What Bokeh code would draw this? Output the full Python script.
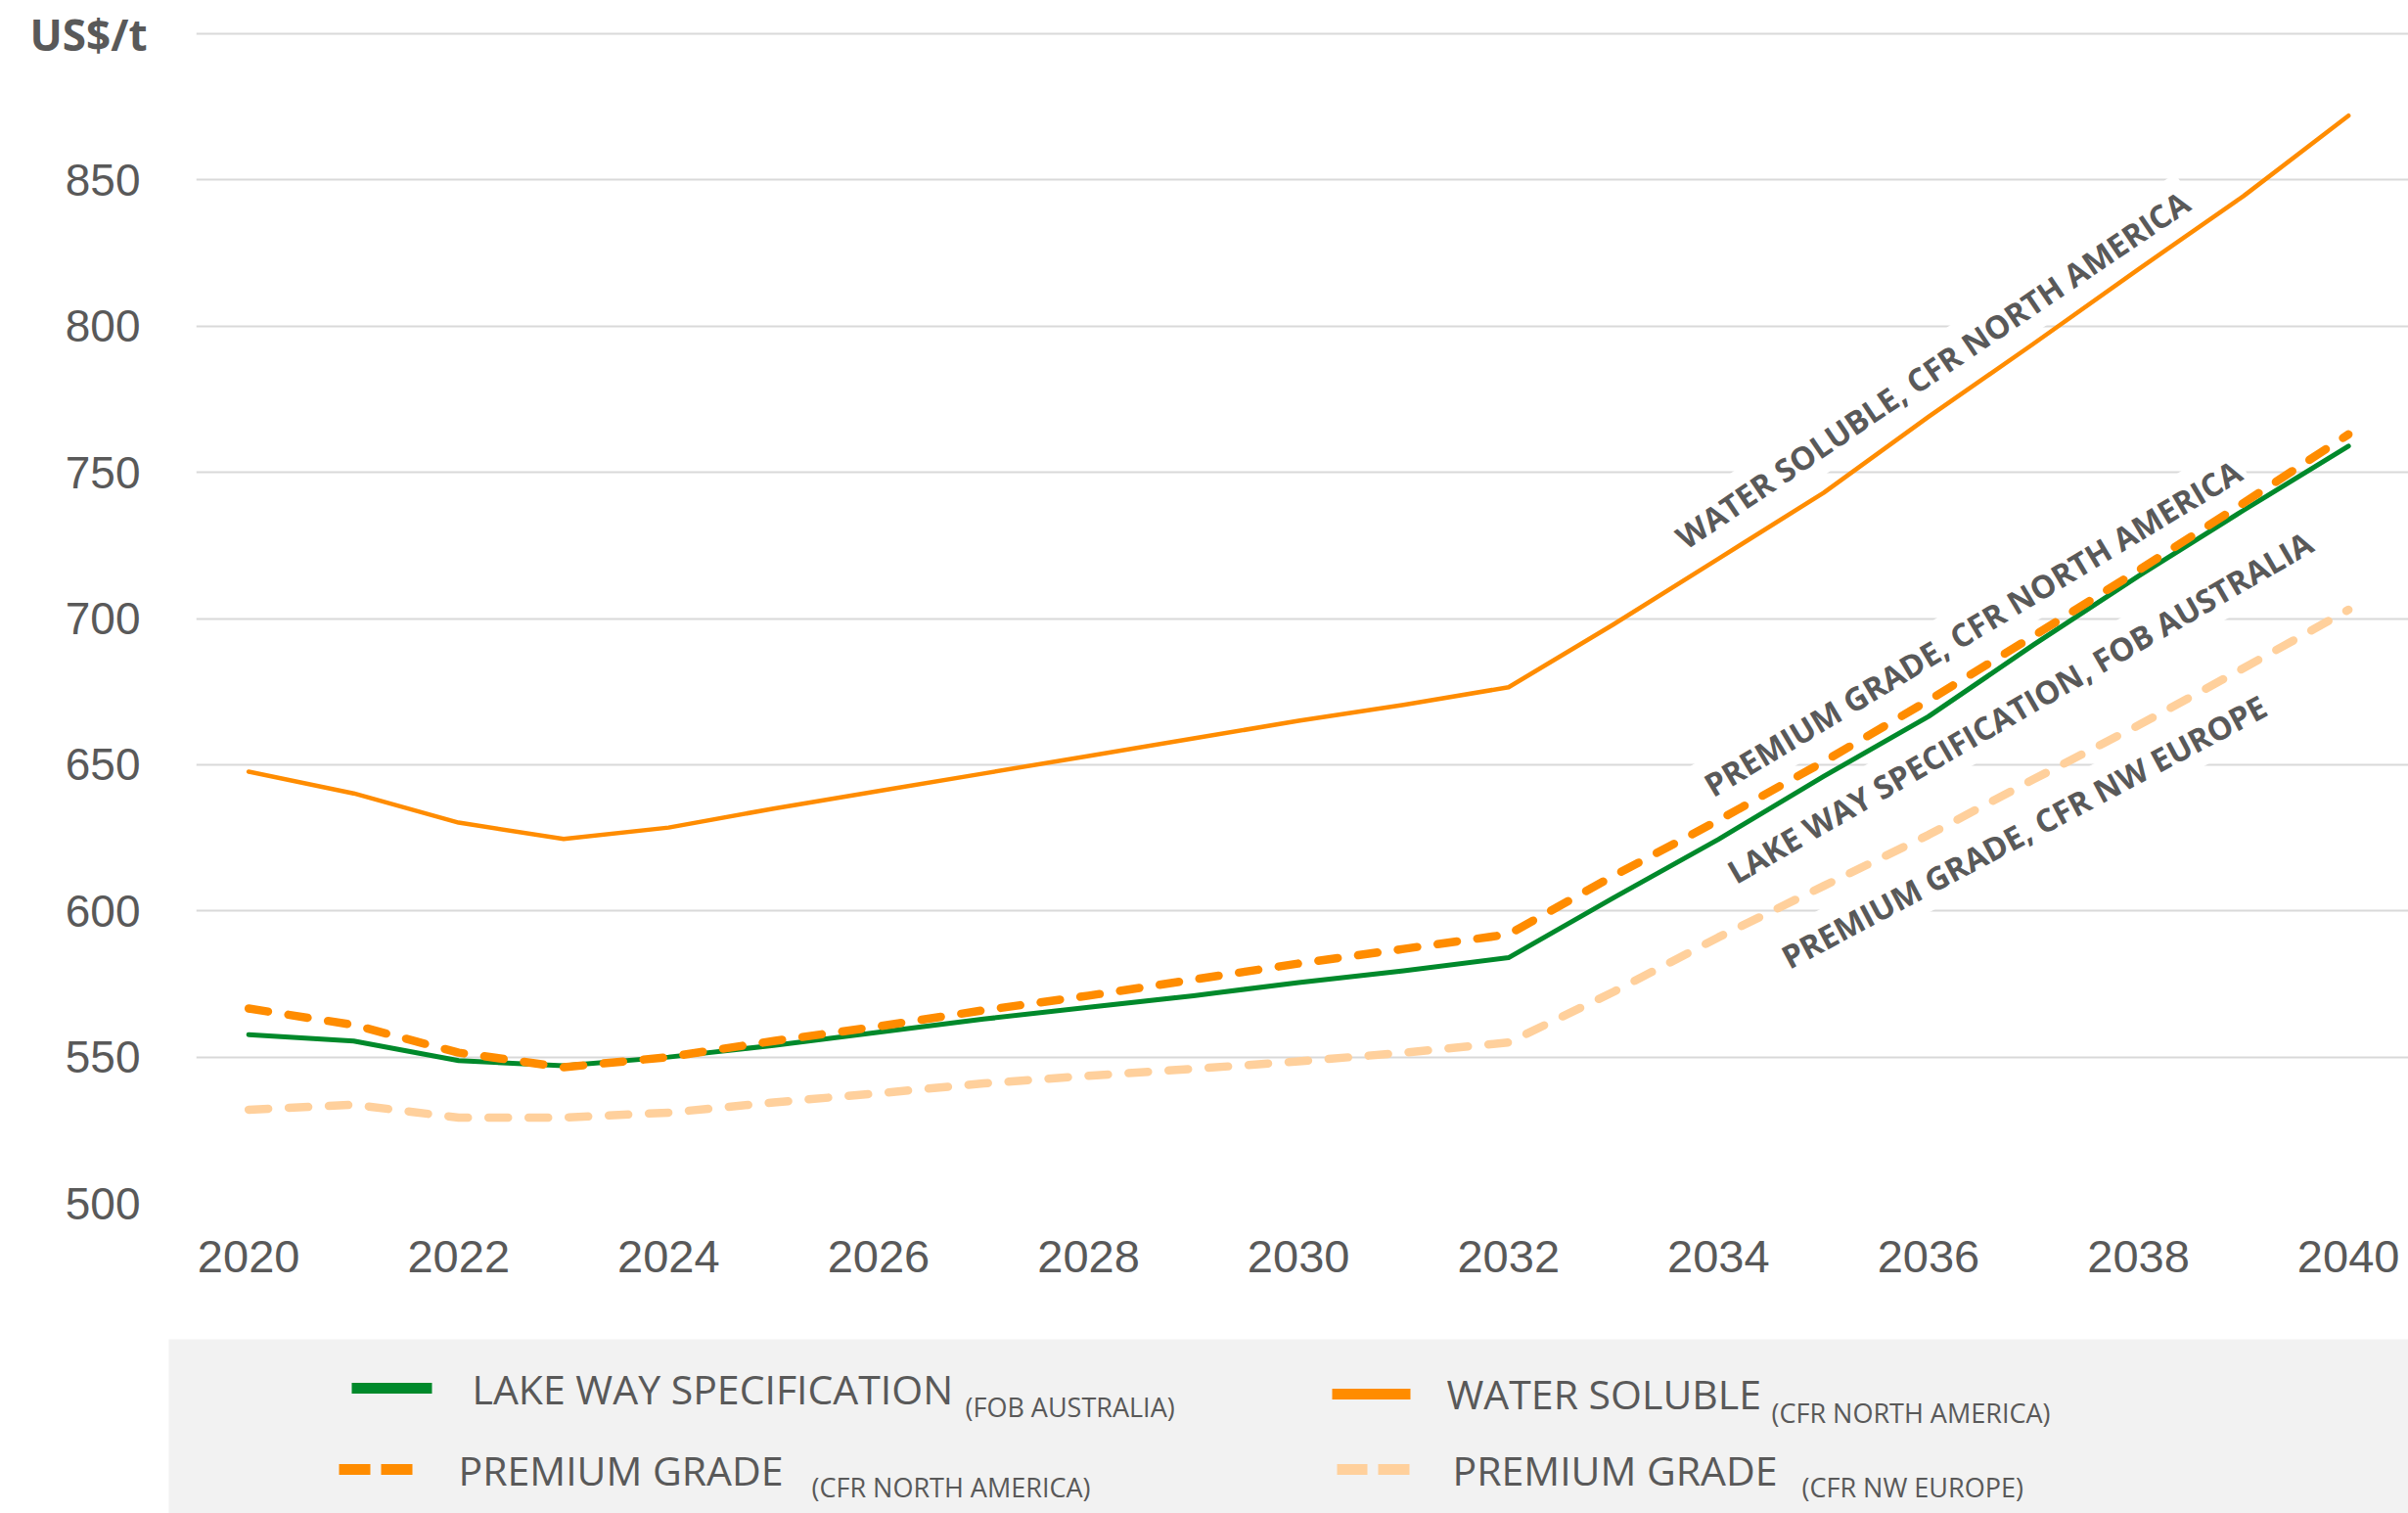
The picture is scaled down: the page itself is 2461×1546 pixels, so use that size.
from bokeh.plotting import figure
from bokeh.models import Range1d, FixedTicker, LinearAxis, ColumnDataSource, Spacer
from bokeh.layouts import column, row
from bokeh.embed import file_html
from bokeh.resources import INLINE
from bokeh.core.properties import value

# ---------------- data ----------------
years = list(range(2020, 2041))
lake_way = [557.7, 555.5, 548.8, 547.0, 550.0, 554.0, 558.5, 563.0, 567.0, 571.0, 575.5,
            579.5, 584.0, 604.5, 624.5, 646.0, 666.5, 691.0, 714.5, 737.0, 759.0]
water_soluble = [647.6, 640.2, 630.2, 624.6, 628.5, 635.0, 641.0, 647.0, 653.0, 659.0, 665.0,
                 670.5, 676.5, 698.0, 720.5, 743.0, 769.0, 794.0, 819.5, 844.5, 872.0]
premium_na = [566.6, 561.0, 551.5, 546.5, 550.0, 555.5, 560.5, 566.0, 571.0, 576.5, 582.0,
              587.0, 592.0, 612.0, 631.0, 651.0, 672.0, 694.0, 716.5, 739.5, 763.0]
premium_eu = [532.0, 533.7, 529.3, 529.3, 531.0, 534.5, 537.6, 541.0, 543.6, 546.0, 548.5,
              551.5, 555.0, 572.3, 591.0, 608.5, 626.0, 645.0, 663.5, 683.0, 703.0]

x_ticks = list(range(2020, 2041, 2))
y_ticks = [500, 550, 600, 650, 700, 750, 800, 850]
grid_ticks = [500, 550, 600, 650, 700, 750, 800, 850, 900]
unit_tick = [900]
unit_label = "US$/t"

line_labels = ["WATER SOLUBLE, CFR NORTH AMERICA",
               "PREMIUM GRADE, CFR NORTH AMERICA",
               "LAKE WAY SPECIFICATION, FOB AUSTRALIA",
               "PREMIUM GRADE, CFR NW EUROPE"]
line_label_x = [2036.04, 2036.42, 2036.87, 2036.91]
line_label_y = [785.2, 696.8, 669.7, 627.2]
line_label_angle = [34, 31, 30, 28]

legend_names = ["LAKE WAY SPECIFICATION", "WATER SOLUBLE", "PREMIUM GRADE", "PREMIUM GRADE"]
legend_notes = ["(FOB AUSTRALIA)", "(CFR NORTH AMERICA)", "(CFR NORTH AMERICA)", "(CFR NW EUROPE)"]

# ---------------- style ----------------
GREEN = "#00892B"
ORANGE = "#FF8C00"
LIGHT = "#FFD09C"
TEXT = "#595959"
GRID = "#D9D9D9"

W, H_CHART, H_LEG = 2461, 1368, 178
PX_PER_YEAR = 107.3
FRAME_LEFT = 200

# ---------------- main chart ----------------
p = figure(width=W, height=H_CHART,
           x_range=Range1d(2019.5, 2019.5 + (W - FRAME_LEFT) / PX_PER_YEAR),
           y_range=Range1d(500, 902.7),
           output_backend="svg", toolbar_location=None,
           min_border_left=FRAME_LEFT, min_border_right=0, min_border_top=26, min_border_bottom=139)
p.outline_line_color = None
p.background_fill_color = "white"
p.border_fill_color = "white"
p.xgrid.visible = False
p.ygrid.ticker = FixedTicker(ticks=grid_ticks)
p.ygrid.grid_line_color = GRID
p.ygrid.grid_line_width = 2

p.xaxis.ticker = FixedTicker(ticks=x_ticks)
p.yaxis.ticker = FixedTicker(ticks=y_ticks)
for ax in (p.xaxis, p.yaxis):
    ax.axis_line_color = None
    ax.major_tick_line_color = None
    ax.minor_tick_line_color = None
    ax.major_tick_in = 0
    ax.major_tick_out = 0
    ax.major_label_text_font = "Liberation Sans"
    ax.major_label_text_color = TEXT
p.xaxis.major_label_text_font_size = "47px"
p.yaxis.major_label_text_font_size = "46px"
p.xaxis.major_label_standoff = 38
p.yaxis.major_label_standoff = 57

# unit label: an outer left axis carrying a single tick at the 900 gridline
unit_axis = LinearAxis(ticker=FixedTicker(ticks=unit_tick),
                       major_label_overrides={900: unit_label})
unit_axis.axis_line_color = None
unit_axis.major_tick_line_color = None
unit_axis.minor_tick_line_color = None
unit_axis.major_tick_in = 0
unit_axis.major_tick_out = 0
unit_axis.major_label_standoff = -87
unit_axis.major_label_text_font = "Open Sans"
unit_axis.major_label_text_font_style = "bold"
unit_axis.major_label_text_font_size = "44px"
unit_axis.major_label_text_color = TEXT
p.add_layout(unit_axis, "left")

# line annotations (drawn first so lines sit on top)
lab_src = ColumnDataSource(dict(x=line_label_x, y=line_label_y, text=line_labels, angle=line_label_angle))
p.text(x="x", y="y", text="text", angle="angle", angle_units="deg", source=lab_src,
       text_font=value("Open Sans"), text_font_style="bold", text_font_size="32.5px",
       text_color=TEXT, text_align="center", text_baseline="middle",
       background_fill_color="white", padding=5)

p.line(years, premium_eu, line_color=LIGHT, line_width=8.5, line_dash="20 21", line_cap="round", line_join="round")
p.line(years, lake_way, line_color=GREEN, line_width=5, line_join="round", line_cap="round")
p.line(years, premium_na, line_color=ORANGE, line_width=8.5, line_dash="20 21", line_cap="round", line_join="round")
p.line(years, water_soluble, line_color=ORANGE, line_width=4.5, line_join="round", line_cap="round")

# ---------------- legend panel ----------------
LEG_LEFT = 172
leg = figure(width=W - LEG_LEFT, height=H_LEG,
             x_range=Range1d(LEG_LEFT, W), y_range=Range1d(H_CHART + H_LEG, H_CHART),
             output_backend="svg", toolbar_location=None,
             x_axis_type=None, y_axis_type=None,
             min_border_left=0, min_border_right=0, min_border_top=0, min_border_bottom=0)
leg.background_fill_color = "#F2F2F2"
leg.border_fill_color = "#F2F2F2"
leg.outline_line_color = None
leg.grid.visible = False

# sample marks: solid
leg.segment(x0=[359, 1361], y0=[1418, 1424], x1=[441, 1441], y1=[1418, 1424],
            line_color=[GREEN, ORANGE], line_width=11, line_cap="butt")
# sample marks: dashed (two short bars each)
leg.segment(x0=[346, 389, 1366, 1408], y0=[1501] * 4, x1=[378, 421, 1397, 1440], y1=[1501] * 4,
            line_color=[ORANGE, ORANGE, LIGHT, LIGHT], line_width=11, line_cap="butt")

leg.text(x=[482, 1478, 468, 1484], y=[1418, 1423, 1501, 1501], text=legend_names,
         text_font=value("Open Sans"), text_font_size="41px", text_color=TEXT,
         text_align="left", text_baseline="alphabetic")
leg.text(x=[986, 1810, 829, 1841], y=[1437, 1443, 1519, 1519], text=legend_notes,
         text_font=value("Open Sans"), text_font_size="27px", text_color=TEXT,
         text_align="left", text_baseline="alphabetic")

layout = column(p, row(Spacer(width=LEG_LEFT, height=H_LEG), leg, spacing=0), spacing=0)
open("out.html", "w").write(file_html(layout, INLINE))
